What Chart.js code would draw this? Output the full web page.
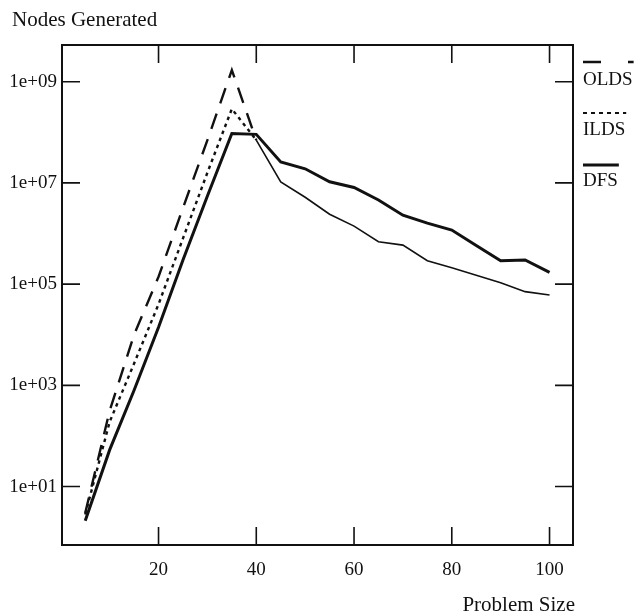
<!DOCTYPE html>
<html>
<head>
<meta charset="utf-8">
<script src="https://cdn.jsdelivr.net/npm/chart.js@4/dist/chart.umd.min.js"></script>
<style>
  body { margin: 0; background: #fff; }
</style>
</head>
<body>
<canvas id="nodes" width="638" height="614"></canvas>
<script>
// values (log y)
const problemSize = [5, 10, 15, 20, 25, 30, 35, 40, 45, 50, 55, 60, 65, 70, 75, 80, 85, 90, 95, 100];
const dfs = [2.1, 53, 800, 1.4e4, 3e5, 5.5e6, 9.5e7, 9.1e7, 2.6e7, 1.9e7, 1.05e7, 8.1e6, 4.6e6, 2.3e6, 1.6e6, 1.17e6, 5.8e5, 2.9e5, 3e5, 1.7e5];
const ilds = [2.8, 190, 2.7e3, 4e4, 8e5, 1.6e7, 2.9e8, 7e7, 1.05e7, 5.2e6, 2.4e6, 1.4e6, 6.9e5, 5.9e5, 2.9e5, 2.1e5, 1.5e5, 1.07e5, 7.1e4, 6.1e4];
const olds = [3, 316, 1e4, 1.4e5, 3.2e6, 7e7, 1.7e9, 7e7, null, null, null, null, null, null, null, null, null, null, null, null];
const xTicks = [20, 40, 60, 80, 100];
const yTicks = [1e1, 1e3, 1e5, 1e7, 1e9];

const ink = "#111";
const serif = "'Liberation Serif', 'Times New Roman', serif";

function points(values) {
  return problemSize
    .map((x, i) => ({ x: x, y: values[i] }))
    .filter((p) => p.y !== null);
}

// legend sample style for each dataset: dash pattern and line width
const legendStyle = {
  OLDS: { dash: [18, 27], width: 2.4, line: 62, text: 80 },
  ILDS: { dash: [4, 4], width: 2, line: 113, text: 130 },
  DFS: { dash: [], width: 3, line: 165, text: 181 },
};

const framePlugin = {
  id: "frame",
  afterDraw(chart) {
    const ctx = chart.ctx;
    const a = chart.chartArea;
    const x = chart.scales.x;
    const y = chart.scales.y;
    ctx.save();
    ctx.strokeStyle = ink;
    ctx.lineWidth = 2;
    ctx.strokeRect(a.left, a.top, a.right - a.left, a.bottom - a.top);

    // inward tick marks on all four sides
    ctx.lineWidth = 1.6;
    ctx.beginPath();
    xTicks.forEach((v) => {
      const px = x.getPixelForValue(v);
      ctx.moveTo(px, a.bottom);
      ctx.lineTo(px, a.bottom - 18);
      ctx.moveTo(px, a.top);
      ctx.lineTo(px, a.top + 18);
    });
    yTicks.forEach((v) => {
      const py = y.getPixelForValue(v);
      ctx.moveTo(a.left, py);
      ctx.lineTo(a.left + 18, py);
      ctx.moveTo(a.right, py);
      ctx.lineTo(a.right - 18, py);
    });
    ctx.stroke();

    // axis titles
    ctx.fillStyle = ink;
    ctx.font = "21px " + serif;
    ctx.textBaseline = "middle";
    ctx.textAlign = "left";
    ctx.fillText("Nodes Generated", 12, 20);
    ctx.textAlign = "right";
    ctx.fillText("Problem Size", a.right + 2, 605);

    // legend: sample line drawn above each label, as wide as the label
    ctx.font = "19px " + serif;
    ctx.textAlign = "left";
    chart.data.datasets.forEach((ds) => {
      const s = legendStyle[ds.label];
      const left = a.right + 10;
      const w = ctx.measureText(ds.label).width;
      ctx.fillText(ds.label, left, s.text);
      ctx.beginPath();
      ctx.setLineDash(s.dash);
      ctx.lineWidth = s.width;
      ctx.moveTo(left, s.line);
      ctx.lineTo(left + w + 1, s.line);
      ctx.stroke();
    });
    ctx.restore();
  },
};

const solidAfter40 = (ctx, before, after) =>
  ctx.p0.parsed.x >= 40 ? after : before;

new Chart(document.getElementById("nodes"), {
  type: "line",
  data: {
    datasets: [
      {
        label: "OLDS",
        data: points(olds),
        borderColor: ink,
        borderWidth: 2.4,
        borderDash: [16, 11],
        pointRadius: 0,
        tension: 0,
      },
      {
        label: "ILDS",
        data: points(ilds),
        borderColor: ink,
        borderWidth: 2.4,
        pointRadius: 0,
        tension: 0,
        segment: {
          borderDash: (ctx) => solidAfter40(ctx, [3.5, 4], []),
          borderWidth: (ctx) => solidAfter40(ctx, 2.4, 1.6),
        },
      },
      {
        label: "DFS",
        data: points(dfs),
        borderColor: ink,
        borderWidth: 3,
        pointRadius: 0,
        tension: 0,
      },
    ],
  },
  options: {
    responsive: false,
    animation: false,
    layout: { padding: { top: 45, right: 65, left: 0, bottom: 0 } },
    plugins: {
      legend: { display: false },
      tooltip: { enabled: false },
    },
    scales: {
      x: {
        type: "linear",
        min: 0.25,
        max: 104.8,
        grid: { display: false, drawTicks: false },
        border: { display: false },
        afterBuildTicks: (scale) => {
          scale.ticks = xTicks.map((v) => ({ value: v }));
        },
        afterFit: (scale) => {
          scale.height = 69;
        },
        ticks: {
          color: ink,
          padding: 14,
          maxRotation: 0,
          font: { family: serif, size: 19 },
        },
      },
      y: {
        type: "logarithmic",
        min: Math.pow(10, -0.152),
        max: Math.pow(10, 9.725),
        grid: { display: false, drawTicks: false },
        border: { display: false },
        afterBuildTicks: (scale) => {
          scale.ticks = yTicks.map((v) => ({ value: v }));
        },
        afterFit: (scale) => {
          scale.width = 62;
        },
        ticks: {
          color: ink,
          padding: 5,
          font: { family: serif, size: 19 },
          callback: (v) =>
            "1e+" + String(Math.round(Math.log10(v))).padStart(2, "0"),
        },
      },
    },
  },
  plugins: [framePlugin],
});
</script>
</body>
</html>
